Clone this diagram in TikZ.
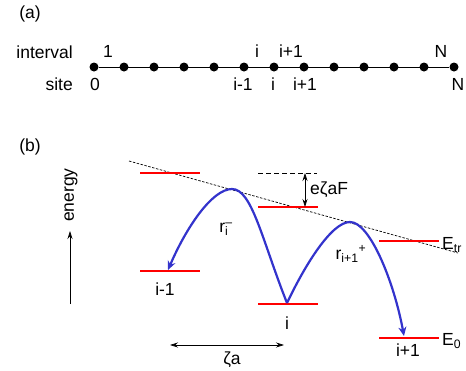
\documentclass[tikz,border=0pt]{standalone}
\usepackage{fontspec}
\setmainfont{Liberation Sans}
\usepackage{xcolor}
\usetikzlibrary{arrows.meta, positioning}

\definecolor{hopblue}{RGB}{51,51,204}

\tikzset{
  site/.style={circle, fill=black, inner sep=0pt, minimum size=9pt},
  lbl/.style={inner sep=1pt, font=\fontsize{17.5}{20}\selectfont},
  level/.style={draw=red, line width=2.6pt},
  hop/.style={draw=hopblue, line width=2.2pt, -{Stealth[length=9pt,width=8pt]}},
  slope/.style={draw=black, line width=0.7pt, dash pattern=on 2.5pt off 1.5pt},
  span/.style={draw=black, line width=0.7pt, {Stealth[length=8pt,width=5pt]}-{Stealth[length=8pt,width=5pt]}},
}

\begin{document}
\begin{tikzpicture}[x=1pt, y=-1pt]
  \useasboundingbox (0,0) rectangle (466,370);

  % (a) chain of sites
  \node[lbl] (parta) at (30,14) {(a)};
  \foreach \k in {0,...,12}
    \node[site] (d\k) at (94+30*\k,67) {};
  \draw[line width=0.8pt] (d0) -- (d12);
  \node[lbl, anchor=east] (interval) at (74,52) {interval};
  \node[lbl, anchor=east] (site) at (74,84) {site};
  \node[lbl] (iv1) at (108,51) {1};
  \node[lbl] (ivi) at (257,51) {i};
  \node[lbl] (ivip) at (291,51) {i+1};
  \node[lbl] (ivN) at (441,51) {N};
  \node[lbl] (s0) at (95,84) {0};
  \node[lbl] (sim) at (243,84) {i-1};
  \node[lbl] (si) at (273,84) {i};
  \node[lbl] (sip) at (305,84) {i+1};
  \node[lbl] (sN) at (458,84) {N};

  % (b) energy levels
  \node[lbl] (partb) at (30,147) {(b)};
  \coordinate (ebot) at (70,304);
  \coordinate (etop) at (70,231);
  \draw[line width=0.7pt, -{Stealth[length=8pt,width=5pt]}] (ebot) -- (etop);
  \node[lbl, rotate=90] (energy) at (71,195) {energy};

  \draw[slope] (129,161) -- (458,253);

  \coordinate (lA) at (170,173);
  \coordinate (lim) at (170,271);
  \coordinate (lB) at (288,207);
  \coordinate (li) at (288,304);
  \coordinate (ltr) at (409,241);
  \coordinate (lip) at (409,338);
  \foreach \l in {lA,lim,lB,li,ltr,lip}
    \draw[level] ([xshift=-30pt]\l) -- ([xshift=30pt]\l);

  % field drop between neighbours
  \coordinate (fieldtop) at (305,173);
  \draw[dashed, line width=0.7pt, dash pattern=on 5pt off 3pt] (258,173) -- (317,173);
  \draw[span] (fieldtop) -- (305,207);
  \node[lbl, anchor=west] (drop) at (309,190) {eζaF};

  % hops
  \coordinate (hm) at (168,270);
  \coordinate (hp) at (404,336);
  \draw[hop] (287,303) .. controls (262,240) and (252,189) .. (232,189)
    .. controls (212,189) and (186,228) .. (hm);
  \draw[hop] (287,303) .. controls (306,263) and (332,222) .. (350,222)
    .. controls (370,222) and (394,282) .. (hp);
  \node[lbl] (rm) at (226,229) {r\textsubscript{i}\kern-3pt\textsuperscript{–}};
  \node[lbl] (rp) at (351,254) {r\textsubscript{i+1}\textsuperscript{+}};

  \node[lbl] (tim) at (165,289) {i-1};
  \node[lbl] (ti) at (287,323) {i};
  \node[lbl] (tip) at (408,350) {i+1};
  \node[lbl, anchor=west] (etr) at (441,245) {E\textsubscript{tr}};
  \node[lbl, anchor=west] (ezero) at (441,341) {E\textsubscript{0}};

  % hop distance
  \coordinate (zl) at (170,345);
  \coordinate (zr) at (284,345);
  \draw[span] (zl) -- (zr);
  \node[lbl] (zeta) at (232,360) {ζa};
\end{tikzpicture}
\end{document}
